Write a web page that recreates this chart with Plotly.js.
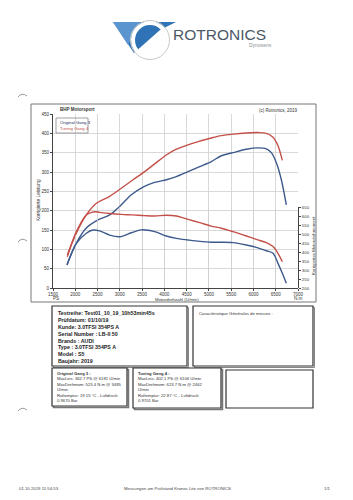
<!DOCTYPE html>
<html><head><meta charset="utf-8">
<script src="https://cdn.plot.ly/plotly-3.0.1.min.js"></script>
<style>html,body{margin:0;padding:0;background:#fff;}#chart{width:353px;height:500px;}</style>
</head><body><div id="chart"></div>
<script>
// ---- data (read from the dyno sheet) ----
const rpmPowerTuning = [1822, 2024, 2248, 2473, 2772, 3034, 3296, 3558, 3782, 4044, 4269, 4531, 4793, 5054, 5279, 5541, 5840, 6100, 6289, 6439, 6551, 6648];
const powerTuning    = [86, 142, 189, 219, 237, 258, 280, 301, 321, 344, 359, 370, 380, 388, 394, 398, 401, 402, 400, 390, 368, 330];

const rpmPowerOrig = [1814, 2024, 2248, 2510, 2772, 2997, 3259, 3520, 3782, 4044, 4269, 4531, 4793, 5054, 5279, 5541, 5840, 6102, 6289, 6401, 6514, 6626, 6738];
const powerOrig    = [60, 116, 155, 176, 189, 211, 241, 261, 273, 280, 288, 301, 314, 327, 342, 350, 359, 362.5, 360, 350, 324, 280, 215];

const rpmTorqueTuning = [1822, 2024, 2248, 2398, 2462, 2548, 2772, 3034, 3296, 3558, 3782, 4044, 4269, 4531, 4793, 5054, 5279, 5541, 5840, 6065, 6289, 6439, 6551, 6648];
const torqueTuning    = [374, 513, 606, 622, 624, 620, 614, 609, 606, 602, 600, 604, 600, 581, 563, 544, 532, 513, 489, 470, 452, 430, 393, 346];

const rpmTorqueOrig = [1814, 2024, 2248, 2398, 2548, 2772, 2997, 3259, 3485, 3782, 4044, 4269, 4531, 4793, 5054, 5279, 5541, 5840, 6065, 6289, 6439, 6551, 6648, 6738];
const torqueOrig    = [328, 448, 504, 522, 517, 494, 485, 507, 523, 513, 489, 476, 467, 459, 454, 454, 452, 439, 426, 407, 393, 337, 282, 226];

const xTicks = [1500, 2000, 2500, 3000, 3500, 4000, 4500, 5000, 5500, 6000, 6500, 7000];
const yTicks = [0, 50, 100, 150, 200, 250, 300, 350, 400, 450];
const y2Ticks = [200, 250, 300, 350, 400, 450, 500, 550, 600, 650];

const seriesNames = ['Original Gang 3', 'Tuning Gang 4'];

// ---- layout helpers (pixel -> paper) ----
const L = 53, R = 298, T = 114, B = 288;
const X = px => (px - L) / (R - L);
const Y = py => (B - py) / (B - T);

const RED = '#c4504a', BLUE = '#3d5a8c';
const FONT = 'Liberation Sans, Arial, sans-serif';

function line(x, y, color, axis) {
  return {x: x, y: y, type: 'scatter', mode: 'lines', yaxis: axis,
    line: {color: color, width: 1.4, shape: 'spline', smoothing: 0.9}, hoverinfo: 'skip', showlegend: false};
}
const traces = [
  line(rpmPowerOrig, powerOrig, BLUE, 'y'),
  line(rpmPowerTuning, powerTuning, RED, 'y'),
  line(rpmTorqueOrig, torqueOrig, BLUE, 'y2'),
  line(rpmTorqueTuning, torqueTuning, RED, 'y2')
];

function ann(text, px, py, o) {
  return Object.assign({text: text, x: X(px), y: Y(py), xref: 'paper', yref: 'paper', showarrow: false,
    xanchor: 'left', yanchor: 'middle', font: {family: FONT, size: 5, color: '#333'}}, o || {});
}
function rect(x0, y0, x1, y1, o) {
  return Object.assign({type: 'rect', xref: 'paper', yref: 'paper', x0: X(x0), x1: X(x1), y0: Y(y0), y1: Y(y1),
    line: {color: '#444', width: 1}, fillcolor: 'rgba(0,0,0,0)', layer: 'above'}, o || {});
}
function pathP(pts, close) {
  return 'M' + pts.map(p => X(p[0]) + ',' + Y(p[1])).join(' L') + (close ? ' Z' : '');
}
function arcMark(py) {
  return {type: 'path', xref: 'paper', yref: 'paper',
    path: 'M' + X(18) + ',' + Y(py + 2) + ' Q' + X(22) + ',' + Y(py - 3) + ' ' + X(27) + ',' + Y(py + 1),
    line: {color: '#999', width: 1}, layer: 'above'};
}

const shapes = [
  // chart frame
  rect(31, 104, 316, 302, {line: {color: '#777', width: 1}}),
  // info boxes
  rect(53.5, 307.5, 188.5, 367.5, {line: {color: '#888', width: 1}}),
  rect(52, 306, 187, 366, {line: {color: '#333', width: 1.2}, fillcolor: '#fff'}),
  rect(194.5, 307.5, 314.5, 367.5, {line: {color: '#888', width: 1}}),
  rect(193, 306, 313, 366, {line: {color: '#333', width: 1.2}, fillcolor: '#fff'}),
  rect(53.5, 369.5, 128.5, 407.5, {line: {color: '#777', width: 1.5}}),
  rect(52, 368, 127, 406, {line: {color: '#333', width: 1.2}, fillcolor: '#fff'}),
  rect(134.5, 369.5, 222.5, 409.5, {line: {color: '#777', width: 1.5}}),
  rect(133, 368, 221, 408, {line: {color: '#333', width: 1.2}, fillcolor: '#fff'}),
  rect(226, 370, 313, 408, {line: {color: '#333', width: 1.2}}),
  // legend box
  rect(56, 118, 88, 133, {line: {color: '#888', width: 0.8}}),
  // logo
  {type: 'path', xref: 'paper', yref: 'paper', path: pathP([[113, 22], [176, 22], [160, 30], [134, 53]], true),
    fillcolor: '#2f72b5', line: {width: 0}, layer: 'above'},
  {type: 'path', xref: 'paper', yref: 'paper', path: pathP([[113, 22], [140, 22], [128, 45]], true),
    fillcolor: '#5a95cf', line: {width: 0}, layer: 'above'},
  {type: 'circle', xref: 'paper', yref: 'paper', x0: X(133), x1: X(167), y0: Y(23), y1: Y(57),
    line: {color: '#ffffff', width: 4}, fillcolor: 'rgba(0,0,0,0)', layer: 'above'},
  {type: 'circle', xref: 'paper', yref: 'paper', x0: X(130.5), x1: X(169.5), y0: Y(20.5), y1: Y(59.5),
    line: {color: '#c8c8c8', width: 1}, fillcolor: 'rgba(0,0,0,0)', layer: 'above'},
  // punch marks
  arcMark(95), arcMark(240), arcMark(409)
];

const annotations = [
  ann('<b>BHP Motorsport</b>', 58, 109.5, {font: {family: FONT, size: 4.5, color: '#333'}}),
  ann('(c) Rotronics, 2019', 300, 110.5, {xanchor: 'right', font: {family: FONT, size: 4.5, color: '#333'}}),
  ann('<span style="color:#23305e">' + seriesNames[0] + '</span><br><span style="color:' + RED + '">' + seriesNames[1] + '</span>', 58, 125.5,
    {font: {family: FONT, size: 4.3, color: '#333'}, align: 'left'}),
  ann('Korrigierte Leistung', 38, 200, {xanchor: 'center', textangle: -90, font: {family: FONT, size: 4.8, color: '#333'}}),
  ann('Korrigiertes Motordrehmoment', 313, 246, {xanchor: 'center', textangle: -90, font: {family: FONT, size: 4.3, color: '#333'}}),
  ann('Motordrehzahl (U/min)', 177, 299.3, {xanchor: 'center', font: {family: FONT, size: 4.4, color: '#333'}}),
  ann('PS', 51, 298.5, {font: {family: FONT, size: 4.6, color: '#333'}}),
  ann('N.m', 298, 298.5, {xanchor: 'center', font: {family: FONT, size: 4.6, color: '#333'}}),
  // logo text
  ann('ROTRONICS', 171, 35, {font: {family: 'Liberation Sans, Arial', size: 15.5, color: '#4b5866'}}),
  ann('Dynosens', 274, 45.5, {xanchor: 'right', font: {family: FONT, size: 5, color: '#8a8f96'}}),
  // box 1
  ann('<b>Testreihe: Test01_10_19_10h53min45s<br>Prüfdatum: 01/10/19<br>Kunde: 3.0TFSI 354PS A<br>Serial Number : LB-II 50<br>Brands : AUDI<br>Type : 3.0TFSI 354PS A<br>Model : S5<br>Baujahr: 2019</b>',
    56, 307.5, {yanchor: 'top', align: 'left', font: {family: FONT, size: 5.3, color: '#222'}}),
  // box 2
  ann('Caractéristique Générales de mesure :', 197, 308.5, {yanchor: 'top', font: {family: FONT, size: 4.3, color: '#333'}}),
  // box 3
  ann('<b>Original Gang 3 :</b><br>MaxLeis: 362.7 PS @ 6181 U/min<br>MaxDrehmom: 523.4 N.m @ 3485<br>U/min<br>Raftemptur: 19.15 °C - Luftdruck:<br>0.9670 Bar',
    54.5, 369, {yanchor: 'top', align: 'left', font: {family: FONT, size: 4.2, color: '#333'}}),
  // box 4
  ann('<b>Tuning Gang 4 :</b><br>MaxLeis: 402.1 PS @ 6106 U/min<br>MaxDrehmom: 623.7 N.m @ 2462<br>U/min<br>Raftemptur: 22.87 °C - Luftdruck:<br>0.9701 Bar',
    135.5, 369, {yanchor: 'top', align: 'left', font: {family: FONT, size: 4.2, color: '#333'}}),
  // footer
  ann('01.10.2019 11:54:53', 17, 489, {font: {family: FONT, size: 4.3, color: '#444'}}),
  ann('Messungen am Prüfstand Kronos Lite von ROTRONICS', 177, 489, {xanchor: 'center', font: {family: FONT, size: 4.3, color: '#444'}}),
  ann('1/1', 327, 489, {xanchor: 'center', font: {family: FONT, size: 4.3, color: '#444'}})
];

const layout = {
  width: 353, height: 500, autosize: false,
  margin: {l: L, r: 353 - R, t: T, b: 500 - B, pad: 0},
  paper_bgcolor: '#ffffff', plot_bgcolor: 'rgba(0,0,0,0)',
  showlegend: false,
  font: {family: FONT, size: 5, color: '#333'},
  xaxis: {range: [1500, 7000], tickvals: xTicks, ticktext: xTicks.map(String), showgrid: true, gridcolor: '#cfcfcf', gridwidth: 0.8,
    showline: true, linecolor: '#444', linewidth: 1, ticks: 'outside', ticklen: 2, tickcolor: '#444', zeroline: false,
    tickfont: {family: FONT, size: 4.5, color: '#333'}, fixedrange: true},
  yaxis: {range: [0, 450], tickvals: yTicks, ticktext: yTicks.map(String), showgrid: true, gridcolor: '#cfcfcf', gridwidth: 0.8,
    showline: true, linecolor: '#444', linewidth: 1, ticks: 'outside', ticklen: 2, tickcolor: '#444', zeroline: false,
    tickfont: {family: FONT, size: 4.6, color: '#333'}, fixedrange: true},
  yaxis2: {domain: [0, 81 / 174], range: [200, 650], anchor: 'x', side: 'right', tickvals: y2Ticks, ticktext: y2Ticks.map(String),
    showgrid: false, showline: true, linecolor: '#444', linewidth: 1, ticks: 'outside', ticklen: 2, tickcolor: '#444', zeroline: false,
    tickfont: {family: FONT, size: 4.3, color: '#333'}, fixedrange: true},
  shapes: shapes,
  annotations: annotations
};

Plotly.newPlot('chart', traces, layout, {displayModeBar: false, staticPlot: true});
</script>
</body></html>
